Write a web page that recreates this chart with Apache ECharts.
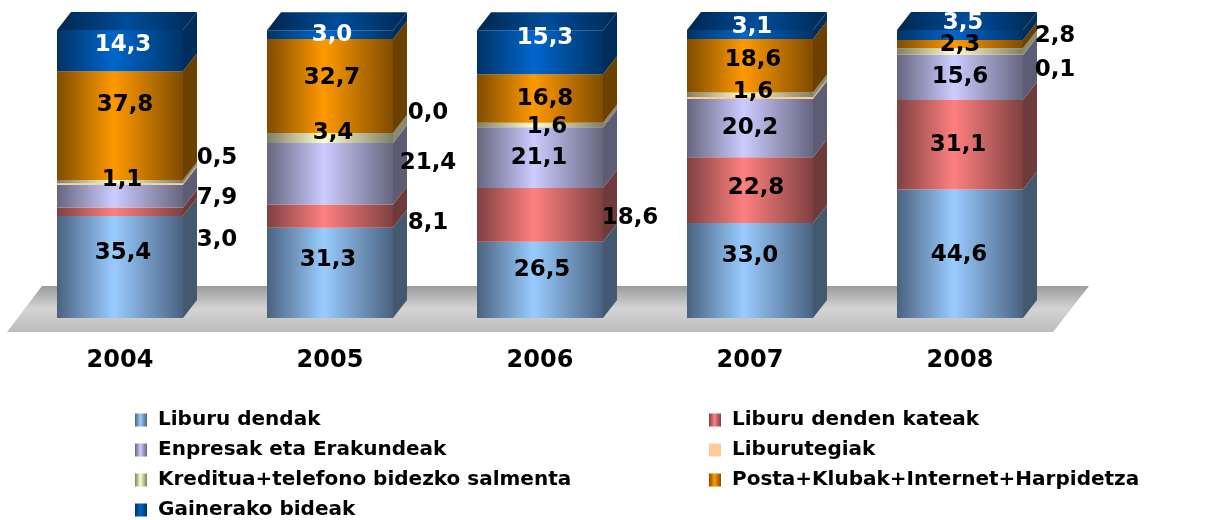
<!DOCTYPE html>
<html>
<head>
<meta charset="utf-8">
<script src="https://cdn.jsdelivr.net/npm/echarts@6/dist/echarts.min.js"></script>
<style>
  html, body { margin: 0; padding: 0; background: #fff; }
  #main { width: 1223px; height: 520px; }
</style>
</head>
<body>
<div id="main"></div>
<script>
  // datuak
  var years = ['2004', '2005', '2006', '2007', '2008'];
  var seriesNames = [
    'Liburu dendak',
    'Liburu denden kateak',
    'Enpresak eta Erakundeak',
    'Liburutegiak',
    'Kreditua+telefono bidezko salmenta',
    'Posta+Klubak+Internet+Harpidetza',
    'Gainerako bideak'
  ];
  var liburuDendak = [35.4, 31.3, 26.5, 33.0, 44.6];
  var dendenKateak = [3.0, 8.1, 18.6, 22.8, 31.1];
  var enpresak = [7.9, 21.4, 21.1, 20.2, 15.6];
  var liburutegiak = [0.5, 0.0, null, 0.7, 0.1];
  var kreditua = [1.1, 3.4, 1.6, 1.6, 2.3];
  var posta = [37.8, 32.7, 16.8, 18.6, 2.8];
  var gainerako = [14.3, 3.0, 15.3, 3.1, 3.5];

  var stacks = [liburuDendak, dendenKateak, enpresak, liburutegiak, kreditua, posta, gainerako];

  // koloreak
  var light = ['#99ccff', '#ff8080', '#ccccff', '#ffcc99', '#ffffcc', '#ff9900', '#0066cc'];
  var dark  = ['#4a6280', '#7f4040', '#66667f', '#ffcc99', '#7f7f66', '#7f4c00', '#003366'];
  var side  = ['#43596f', '#6e3a3a', '#5c5c74', '#c8a47c', '#8a8a6e', '#6b4000', '#002d5a'];
  var labelColor = ['#000', '#000', '#000', '#000', '#000', '#000', '#fff'];

  // etiketen desplazamendua (px), null = ezkutatu
  var labelShift = [
    [[3, -14], [-2, -13], [2, -10], [0, -14], [-1, 1]],
    [[97, 28], [98, 7], [90, 3], [6, -2], [-2, 0]],
    [[97, 2], [98, -11], [-1, 0], [0, 0], [0, 0]],
    [[97, -26], [98, -30], null, null, [95, 15]],
    [[2, -2], [3, -5], [7, 2], [3, -3], [0, -6]],
    [[5, -21], [2, -8], [5, 0], [3, -6], [95, -8]],
    [[3, -6], [2, 0], [5, -14], [2, -7], [3, -12]]
  ];

  var font = 'DejaVu Sans';
  var myChart = echarts.init(document.getElementById('main'));

  function fmt(v) {
    return v.toFixed(1).replace('.', ',');
  }

  var barSeries = stacks.map(function (arr, s) {
    return {
      name: seriesNames[s],
      type: 'bar',
      stack: 'total',
      barWidth: '60%',
      z: 3,
      itemStyle: {
        color: new echarts.graphic.LinearGradient(0, 0, 1, 0, [
          {offset: 0, color: dark[s]},
          {offset: 0.45, color: light[s]},
          {offset: 1, color: dark[s]}
        ])
      },
      data: arr.map(function (v, i) {
        var sh = labelShift[s][i];
        return {
          value: v,
          label: {
            show: sh !== null && v !== null,
            position: 'inside',
            offset: sh || [0, 0],
            formatter: function (p) { return fmt(p.value); },
            color: labelColor[s],
            fontFamily: font,
            fontWeight: 'bold',
            fontSize: 23
          }
        };
      })
    };
  });

  var topColor = new echarts.graphic.LinearGradient(0, 0, 1, 0, [
    {offset: 0, color: '#00264d'},
    {offset: 0.5, color: '#004c99'},
    {offset: 1, color: '#002a55'}
  ]);

  // 3D aldeak eta goiko aurpegia
  var sideSeries = {
    type: 'custom',
    z: 1,
    silent: true,
    data: years.map(function (y, i) { return [i]; }),
    encode: {x: 0},
    renderItem: function (params, api) {
      var i = api.value(0);
      var half = api.size([1, 0])[0] * 0.3;
      var dx = 14, dy = -18;
      var base = api.coord([i, 0]);
      var x0 = base[0] - half, x1 = base[0] + half;
      var prevY = base[1];
      var cum = 0;
      var children = [];
      stacks.forEach(function (arr, s) {
        var v = arr[i] || 0;
        cum += v;
        var y = api.coord([i, cum])[1];
        if (v > 0) {
          children.push({
            type: 'polygon',
            shape: {points: [[x1, prevY], [x1 + dx, prevY + dy], [x1 + dx, y + dy], [x1, y]]},
            style: {fill: side[s]}
          });
        }
        prevY = y;
      });
      children.push({
        type: 'polygon',
        shape: {points: [[x0, prevY], [x1, prevY], [x1 + dx, prevY + dy], [x0 + dx, prevY + dy]]},
        style: {fill: topColor}
      });
      return {type: 'group', children: children};
    }
  };

  var legendText = {
    fontFamily: font,
    fontWeight: 'bold',
    fontSize: 20,
    color: '#000',
    padding: [0, 0, 0, 6]
  };

  myChart.setOption({
    animation: false,
    grid: {left: 15, right: 158, top: 30, bottom: 202},
    graphic: [{
      type: 'polygon',
      z: 0,
      silent: true,
      shape: {points: [[7, 332], [42, 286], [1089, 286], [1053, 332]]},
      style: {
        fill: new echarts.graphic.LinearGradient(0, 0, 0, 1, [
          {offset: 0, color: '#9c9c9c'},
          {offset: 0.5, color: '#d4d4d4'},
          {offset: 1, color: '#bcbcbc'}
        ])
      }
    }],
    legend: [{
      data: [seriesNames[0], seriesNames[2], seriesNames[4], seriesNames[6]],
      orient: 'vertical',
      left: 135,
      top: 410,
      height: 110,
      padding: 0,
      itemWidth: 12,
      itemHeight: 13,
      itemGap: 10,
      icon: 'rect',
      selectedMode: false,
      textStyle: legendText
    }, {
      data: [seriesNames[1], seriesNames[3], seriesNames[5]],
      orient: 'vertical',
      left: 709,
      top: 410,
      height: 110,
      padding: 0,
      itemWidth: 12,
      itemHeight: 13,
      itemGap: 10,
      icon: 'rect',
      selectedMode: false,
      textStyle: legendText
    }],
    xAxis: {
      type: 'category',
      data: years,
      axisLine: {show: false},
      axisTick: {show: false},
      axisLabel: {
        margin: 31,
        color: '#000',
        fontFamily: font,
        fontWeight: 'bold',
        fontSize: 24
      }
    },
    yAxis: {
      type: 'value',
      min: 0,
      max: 100,
      show: false
    },
    series: barSeries.concat([sideSeries])
  });
</script>
</body>
</html>
